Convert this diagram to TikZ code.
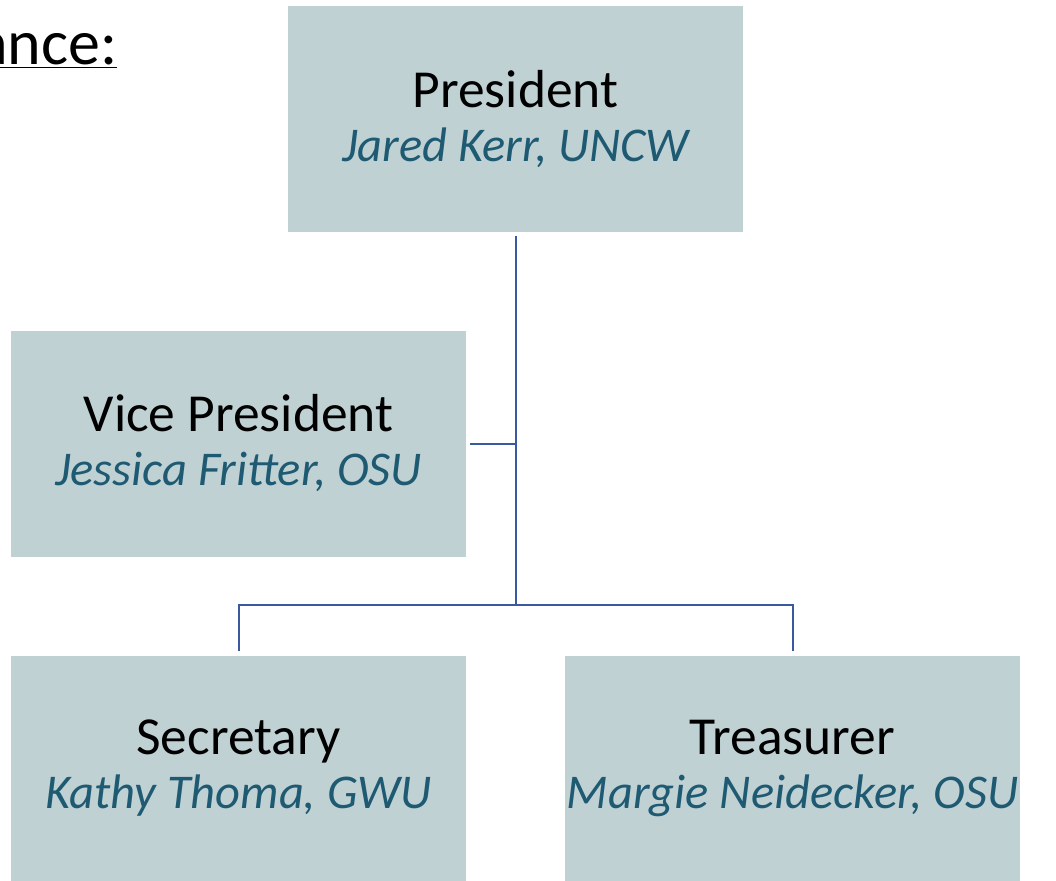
\documentclass[tikz,border=0pt]{standalone}
\usepackage{fontspec}
\setmainfont{Carlito}
\usepackage{tikz}
\definecolor{boxfill}{RGB}{192,209,212}
\definecolor{namecol}{RGB}{31,90,115}
\definecolor{linecol}{RGB}{59,89,158}
\newcommand{\officer}[2]{#1\\\textcolor{namecol}{\fontsize{48.5}{54}\selectfont\itshape #2}}

\begin{document}
\begin{tikzpicture}[x=1pt,y=-1pt]
\tikzstyle{office}=[rectangle,fill=boxfill,minimum width=455pt,minimum height=226pt,inner sep=0pt,align=center,font=\fontsize{53.5}{54}\selectfont]
\tikzstyle{link}=[draw=linecol,line width=2pt]
\useasboundingbox (0,0) rectangle (1056,880);
\clip (0,0) rectangle (1056,880);
\node[anchor=base east,font=\fontsize{64}{70}\selectfont] (title) at (121,65) {\underline{ance:}};
\node[office] (pres) at (515.5,119)   {\officer{President}{Jared Kerr, UNCW}};
\node[office] (vp)   at (238.5,443.5) {\officer{Vice President}{Jessica Fritter, OSU}};
\node[office] (sec)  at (238.5,768.5) {\officer{Secretary}{Kathy Thoma, GWU}};
\node[office] (tre)  at (792.5,768.5) {\officer{Treasurer}{Margie Neidecker, OSU}};
\coordinate (split) at (515.5,605);
\draw[link] ([yshift=-4pt]pres.south) -- (split);
\draw[link] ([xshift=4pt]vp.east) -- (vp.east -| split);
\draw[link] ([yshift=4pt]sec.north) |- (split) -| ([yshift=4pt]tre.north);
\end{tikzpicture}
\end{document}
